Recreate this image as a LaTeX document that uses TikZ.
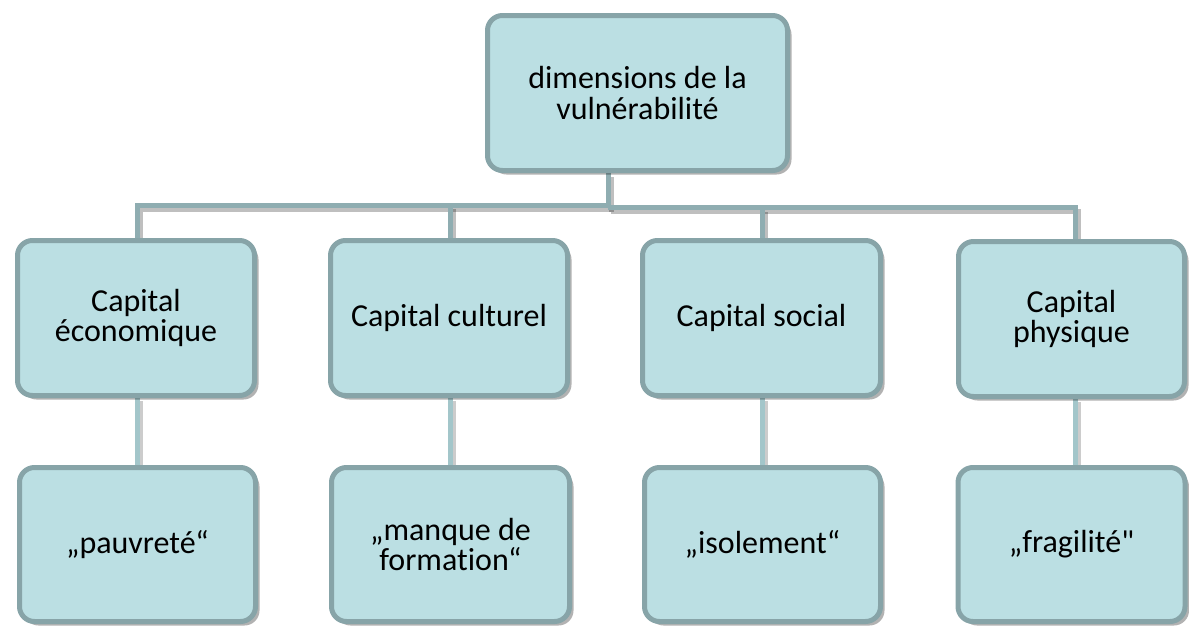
\documentclass[tikz,border=0pt]{standalone}
\usepackage{fontspec}
\setmainfont{Carlito}[Ligatures={TeXOff,NoCommon}]
\usetikzlibrary{shadows,backgrounds}
\definecolor{boxfill}{HTML}{BBDFE3}
\definecolor{boxline}{HTML}{87A4A8}
\definecolor{conn}{HTML}{8FADB1}
\definecolor{connlight}{HTML}{A3C6CA}
\tikzset{
  box/.style={rectangle, rounded corners=15pt, draw=boxline, line width=5pt, fill=boxfill,
    align=center, inner sep=0pt, font=\fontsize{32}{30.5}\selectfont,
    drop shadow={shadow xshift=4pt, shadow yshift=-4pt, fill=black, opacity=0.3}},
  conline/.style={draw=conn, line width=5pt,
    preaction={draw=black, opacity=0.25, line width=5pt, transform canvas={shift={(3pt,-4pt)}}}},
  conlight/.style={draw=connlight, line width=5pt,
    preaction={draw=black, opacity=0.2, line width=5pt, transform canvas={shift={(3pt,-3pt)}}}}
}
\begin{document}
\begin{tikzpicture}[x=1pt,y=-1pt]
\useasboundingbox (0,0) rectangle (1189,627);
% nodes
\node[box, minimum width=300pt, minimum height=155pt] (top) at (637.5,93) {dimensions de la\\vulnérabilité};
\node[box, minimum width=237pt, minimum height=155pt] (econ) at (136,318) {Capital\\économique};
\node[box, minimum width=237pt, minimum height=155pt] (cult) at (449,318) {Capital culturel};
\node[box, minimum width=238pt, minimum height=155pt] (soc) at (761.5,318) {Capital social};
\node[box, minimum width=226pt, minimum height=155pt] (phys) at (1071.5,319) {Capital\\physique};
\node[box, minimum width=236pt, minimum height=154pt] (pauv) at (137.5,544.5) {„pauvreté“};
\node[box, minimum width=238pt, minimum height=154pt] (form) at (450.5,544.5) {„manque de\\formation“};
\node[box, minimum width=236pt, minimum height=154pt] (isol) at (762.5,544.5) {„isolement“};
\node[box, minimum width=227pt, minimum height=154pt] (frag) at (1071.5,544.5) {„fragilité"};
% connectors
\coordinate (hub) at (608,205);
\coordinate (hubr) at (608,207.5);
\begin{scope}[on background layer]
\draw[conline] (top.south -| hub) -- (hubr);
\draw[conline] (econ.north -| 137,0) |- (hub);
\draw[conline] (hubr) -| (phys.north -| 1075,0);
\draw[conline] (cult.north -| 450,0) -- (450,205);
\draw[conline] (soc.north -| 762,0) -- (762,207.5);
\draw[conlight] (econ.south -| 137,0) -- (pauv.north -| 137,0);
\draw[conlight] (cult.south -| 450,0) -- (form.north -| 450,0);
\draw[conlight] (soc.south -| 762,0) -- (isol.north -| 762,0);
\draw[conlight] (phys.south -| 1075,0) -- (frag.north -| 1075,0);
\end{scope}
\end{tikzpicture}
\end{document}
